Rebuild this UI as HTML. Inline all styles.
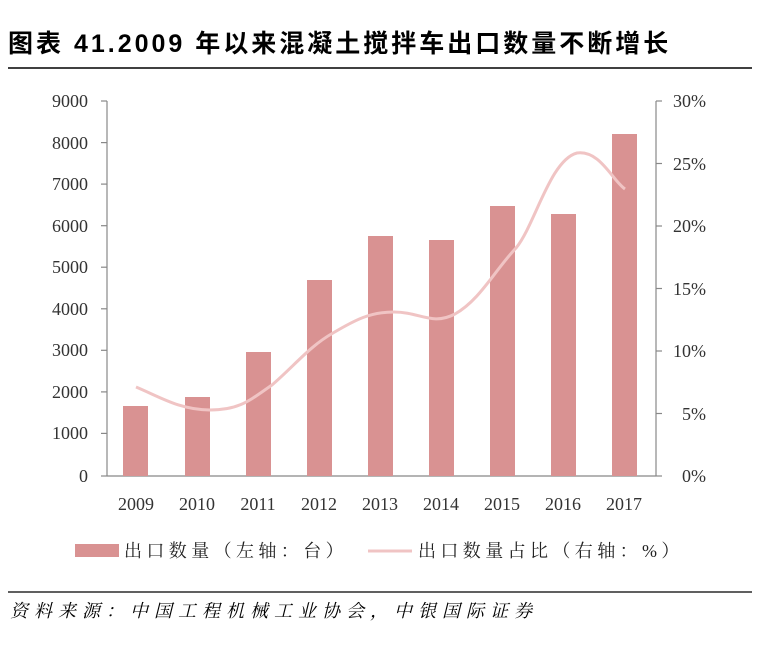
<!DOCTYPE html>
<html><head><meta charset="utf-8"><style>
body{margin:0;background:#fff;width:782px;height:641px;overflow:hidden}
svg text{font-family:"Liberation Serif","Noto Serif CJK SC",serif}
</style></head><body>
<svg width="782" height="641" xmlns="http://www.w3.org/2000/svg">
<text x="8" y="52" font-weight="bold" font-size="25" letter-spacing="3" fill="#000" style="font-family:'Liberation Sans','Noto Sans CJK SC',sans-serif">图表 41.2009 年以来混凝土搅拌车出口数量不断增长</text>
<line x1="8" y1="68" x2="752" y2="68" stroke="#000" stroke-width="1.5"/>
<g stroke="#888" stroke-width="1.2">
<line x1="107" y1="101" x2="107" y2="476"/>
<line x1="107" y1="476" x2="656" y2="476"/>
<line x1="656" y1="101" x2="656" y2="476"/>
<line x1="101" y1="101" x2="107" y2="101"/><line x1="101" y1="142.6" x2="107" y2="142.6"/><line x1="101" y1="184.1" x2="107" y2="184.1"/><line x1="101" y1="225.7" x2="107" y2="225.7"/><line x1="101" y1="267.2" x2="107" y2="267.2"/><line x1="101" y1="308.8" x2="107" y2="308.8"/><line x1="101" y1="350.3" x2="107" y2="350.3"/><line x1="101" y1="391.9" x2="107" y2="391.9"/><line x1="101" y1="433.4" x2="107" y2="433.4"/><line x1="101" y1="476" x2="107" y2="476"/>
<line x1="656" y1="101" x2="662" y2="101"/><line x1="656" y1="163.5" x2="662" y2="163.5"/><line x1="656" y1="226" x2="662" y2="226"/><line x1="656" y1="288.5" x2="662" y2="288.5"/><line x1="656" y1="351" x2="662" y2="351"/><line x1="656" y1="413.5" x2="662" y2="413.5"/><line x1="656" y1="476" x2="662" y2="476"/>
</g>
<g font-size="18" fill="#333" text-anchor="end">
<text x="88" y="107">9000</text><text x="88" y="149">8000</text><text x="88" y="190">7000</text><text x="88" y="232">6000</text><text x="88" y="273">5000</text><text x="88" y="315">4000</text><text x="88" y="356">3000</text><text x="88" y="398">2000</text><text x="88" y="439">1000</text><text x="88" y="482">0</text>
</g>
<g font-size="18" fill="#333">
<text x="673" y="107">30%</text><text x="673" y="170">25%</text><text x="673" y="232">20%</text><text x="673" y="295">15%</text><text x="673" y="357">10%</text><text x="682" y="420">5%</text><text x="682" y="482">0%</text>
</g>
<g fill="#d99292">
<rect x="123" y="406" width="25" height="70"/>
<rect x="185" y="397" width="25" height="79"/>
<rect x="246" y="352" width="25" height="124"/>
<rect x="307" y="280" width="25" height="196"/>
<rect x="368" y="236" width="25" height="240"/>
<rect x="429" y="240" width="25" height="236"/>
<rect x="490" y="206" width="25" height="270"/>
<rect x="551" y="214" width="25" height="262"/>
<rect x="612" y="134" width="25" height="342"/>
</g>
<path d="M136,387 C160,397 180,410 210,410 C240,410 250,400 272,385 C295,365 310,346 333,333 C355,320 370,312 394,312 C420,312 432,326 455,314 C480,300 495,270 516,248 C535,225 550,160 577,153 C600,150 612,180 625,189" fill="none" stroke="#f0c4c4" stroke-width="3"/>
<g font-size="18" fill="#333" text-anchor="middle">
<text x="136" y="510">2009</text><text x="197" y="510">2010</text><text x="258" y="510">2011</text><text x="319" y="510">2012</text><text x="380" y="510">2013</text><text x="441" y="510">2014</text><text x="502" y="510">2015</text><text x="563" y="510">2016</text><text x="624" y="510">2017</text>
</g>
<rect x="75" y="544" width="44" height="13" fill="#d99292"/>
<text x="124" y="557" font-size="18" letter-spacing="4.4" fill="#222">出口数量（左轴：台）</text>
<line x1="368" y1="551" x2="412" y2="551" stroke="#f0c4c4" stroke-width="3"/>
<text x="418" y="557" font-size="18" letter-spacing="4.4" fill="#222">出口数量占比（右轴：%）</text>
<line x1="8" y1="592" x2="752" y2="592" stroke="#000" stroke-width="1.2"/>
<text x="10" y="617" font-size="18" letter-spacing="6" font-style="italic" fill="#000">资料来源：中国工程机械工业协会，中银国际证券</text>
</svg>
</body></html>
